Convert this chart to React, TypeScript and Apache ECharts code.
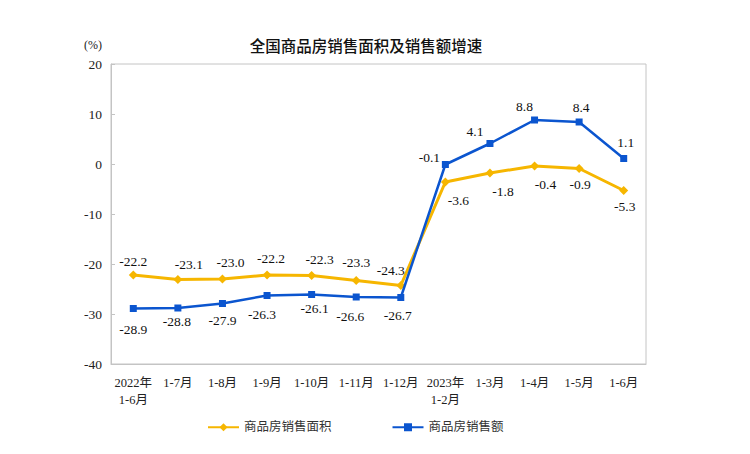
import React, { useEffect, useRef } from "react";
import * as echarts from "echarts";

const categories = ["2022年\n1-6月", "1-7月", "1-8月", "1-9月", "1-10月", "1-11月", "1-12月", "2023年\n1-2月", "1-3月", "1-4月", "1-5月", "1-6月"];
const areaGrowth = [-22.2, -23.1, -23.0, -22.2, -22.3, -23.3, -24.3, -3.6, -1.8, -0.4, -0.9, -5.3];
const salesGrowth = [-28.9, -28.8, -27.9, -26.3, -26.1, -26.6, -26.7, -0.1, 4.1, 8.8, 8.4, 1.1];
const yTicks = { min: -40, max: 20, interval: 10 };

// label offsets (layout only)
const areaLabelOffsets = [[0, -14], [11, -15], [8, -17], [4, -17], [8, -16], [0, -18], [-10, -15], [13, 18], [13, 18], [11, 18], [1, 16], [1, 16]];
const salesLabelOffsets = [[0, 21], [-1, 13], [0, 17], [-5, 19], [3, 14], [-6, 19], [-3, 18], [-16, -7], [-15, -12], [-10, -14], [2, -15], [2, -16]];

const YELLOW = "#F6B600";
const BLUE = "#0B55CF";
const SERIF = "'Liberation Serif', 'Times New Roman', serif";
const CJK = "'Liberation Serif', 'Noto Sans CJK SC', serif";

export default function App() {
  const ref = useRef<HTMLDivElement>(null);
  useEffect(() => {
    if (!ref.current) return;
    const chart = echarts.init(ref.current, null, { renderer: "svg" });
    const mk = (vals: number[], offs: number[][]) =>
      vals.map((v, i) => ({
        value: v,
        label: { offset: offs[i] },
      }));
    const labelStyle = {
      show: true,
      position: "inside",
      align: "center",
      verticalAlign: "middle",
      fontFamily: SERIF,
      fontSize: 13.5,
      color: "#111",
      formatter: (p: any) => Number(p.value).toFixed(1),
    };
    chart.setOption({
      animation: false,
      backgroundColor: "#ffffff",
      title: {
        text: "全国商品房销售面积及销售额增速",
        left: 361,
        textAlign: "center",
        top: 32,
        textStyle: { fontFamily: "'Noto Sans CJK SC', sans-serif", fontSize: 15.5, fontWeight: 500, color: "#111" },
      },
      graphic: [
        {
          type: "text",
          left: 84,
          top: 39,
          style: { text: "(%)", fontFamily: CJK, fontSize: 12, fill: "#222" },
        },
      ],
      legend: {
        left: 202,
        top: 416,
        itemWidth: 31,
        itemHeight: 10,
        itemGap: 60,
        textStyle: { fontFamily: CJK, fontSize: 12.5, color: "#333" },
        data: ["商品房销售面积", "商品房销售额"],
      },
      grid: {
        left: 111,
        right: 104,
        top: 64,
        bottom: 90,
        show: true,
        borderColor: "#c4c4c4",
        borderWidth: 1,
      },
      xAxis: {
        type: "category",
        data: categories,
        boundaryGap: true,
        axisLine: { onZero: false, lineStyle: { color: "#c4c4c4" } },
        axisTick: { inside: true, length: 5, lineStyle: { color: "#c4c4c4" } },
        axisLabel: { interval: 0, fontFamily: CJK, fontSize: 12.5, color: "#222", margin: 10, lineHeight: 17 },
      },
      yAxis: {
        type: "value",
        min: yTicks.min,
        max: yTicks.max,
        interval: yTicks.interval,
        splitLine: { show: false },
        axisLine: { show: true, lineStyle: { color: "#c4c4c4" } },
        axisTick: { show: true, inside: true, length: 4, lineStyle: { color: "#c4c4c4" } },
        axisLabel: { fontFamily: SERIF, fontSize: 13.5, color: "#222", margin: 9 },
      },
      series: [
        {
          name: "商品房销售面积",
          type: "line",
          data: mk(areaGrowth, areaLabelOffsets),
          symbol: "diamond",
          symbolSize: 9,
          itemStyle: { color: YELLOW },
          lineStyle: { color: YELLOW, width: 3 },
          z: 2,
          label: labelStyle,
        },
        {
          name: "商品房销售额",
          type: "line",
          data: mk(salesGrowth, salesLabelOffsets),
          symbol: "rect",
          symbolSize: 7,
          itemStyle: { color: BLUE },
          lineStyle: { color: BLUE, width: 2.5 },
          z: 3,
          label: labelStyle,
        },
      ],
    });
    return () => chart.dispose();
  }, []);
  return <div ref={ref} style={{ width: 750, height: 454, marginLeft: -8, marginTop: -8 }} />;
}
